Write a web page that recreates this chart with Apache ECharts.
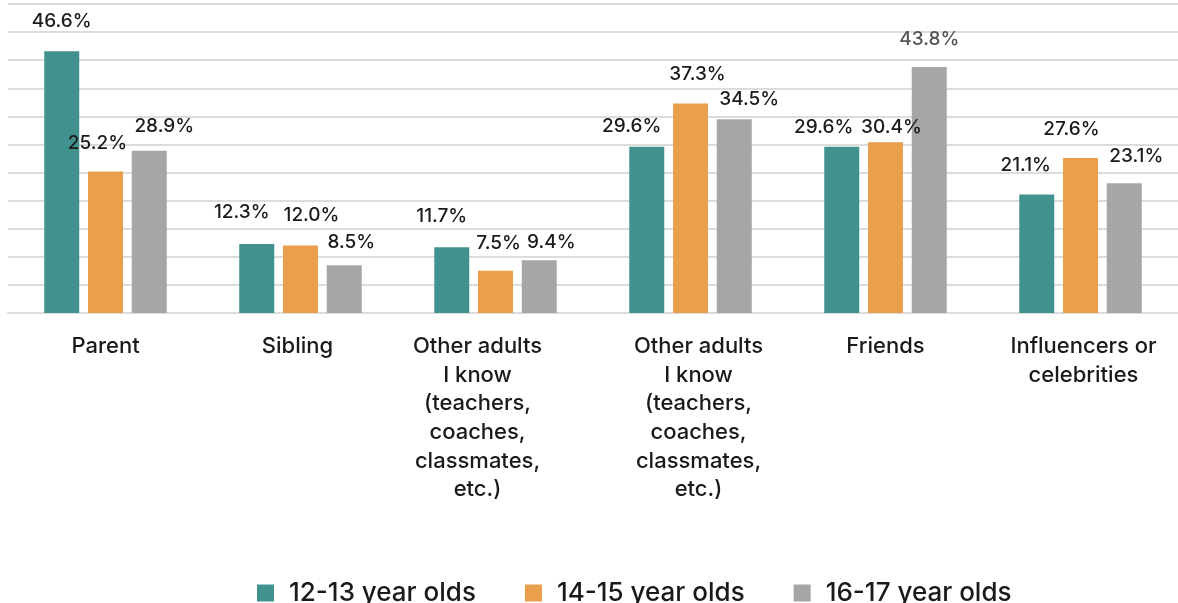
<!DOCTYPE html>
<html lang="en">
<head>
    <meta charset="UTF-8">
    <title>Who teens talk to</title>
    <style type="text/css">
        html, body {
            margin: 0;
            padding: 0;
            background: #fff;
        }

        #main {
            width: 1178px;
            height: 603px;
        }
    </style>
</head>
<body>
    <div id="main"></div>
    <script src="https://cdn.jsdelivr.net/npm/echarts@6/dist/echarts.min.js"></script>
    <script type="text/javascript">
        // categories along the x axis
        var categories = ['Parent', 'Sibling',
            'Other adults\nI know\n(teachers,\ncoaches,\nclassmates,\netc.)',
            'Other adults\nI know\n(teachers,\ncoaches,\nclassmates,\netc.)',
            'Friends', 'Influencers or\ncelebrities'];
        var seriesNames = ['12-13 year olds', '14-15 year olds', '16-17 year olds'];
        // percent values per age group
        var age1213 = [46.6, 12.3, 11.7, 29.6, 29.6, 21.1];
        var age1415 = [25.2, 12.0, 7.5, 37.3, 30.4, 27.6];
        var age1617 = [28.9, 8.5, 9.4, 34.5, 43.8, 23.1];
        var colors = ['#41928f', '#e99f4b', '#a6a6a6'];

        // label nudges [dx, dy] so the labels sit like in the original
        var labelShift = [
            [[0, -6], [-15, -8], [-10, -7], [-15, 3], [-18, 4], [-11, -6]],
            [[-8, -5], [11, -7], [3, -4], [7, -6], [6, 9], [-9, -5]],
            [[15, -1], [7, 1], [12, 6], [15, 4], [0, -4], [12, -3]]
        ];
        // horizontal nudge of the category names
        var catShift = [0, -3, -18, 8, 0, 3];

        var font = 'Inter, "Noto Sans", sans-serif';

        function makeSeries(idx, values) {
            return {
                name: seriesNames[idx],
                type: 'bar',
                barWidth: 35,
                barGap: '25%',
                itemStyle: { color: colors[idx] },
                label: {
                    show: true,
                    position: 'top',
                    distance: 14,
                    fontFamily: font,
                    fontSize: 19,
                    fontWeight: 500,
                    color: '#1a1a1a',
                    formatter: function (p) { return p.value.toFixed(1) + '%'; }
                },
                data: values.map(function (v, i) {
                    var lab = { offset: labelShift[idx][i] };
                    // the 43.8% label is grey in the original
                    if (idx === 2 && i === 4) lab.color = '#555';
                    return { value: v, label: lab };
                })
            };
        }

        // one rich style per category so each name can be nudged
        var catRich = {};
        catShift.forEach(function (s, i) {
            catRich['c' + i] = {
                fontFamily: font,
                fontSize: 22,
                fontWeight: 500,
                lineHeight: 28.7,
                color: '#1a1a1a',
                padding: s < 0 ? [0, -2 * s, 0, 0] : [0, 0, 0, 2 * s]
            };
        });

        var myChart = echarts.init(document.getElementById('main'));
        var option = {
            animation: false,
            grid: {
                left: 8,
                right: 0,
                top: 4,
                bottom: 290
            },
            legend: {
                bottom: -8,
                left: 252,
                itemWidth: 17,
                itemHeight: 17,
                itemGap: 49,
                icon: 'rect',
                textStyle: {
                    fontFamily: font,
                    fontSize: 26,
                    fontWeight: 500,
                    color: '#1a1a1a',
                    padding: [0, 0, 0, 10]
                },
                data: seriesNames
            },
            xAxis: {
                type: 'category',
                data: categories,
                axisTick: { show: false },
                axisLine: { lineStyle: { color: '#dcdcdc', width: 2 } },
                axisLabel: {
                    interval: 0,
                    margin: 19,
                    align: 'center',
                    formatter: function (val, i) {
                        return val.split('\n').map(function (line) {
                            return '{c' + i + '|' + line + '}';
                        }).join('\n');
                    },
                    rich: catRich
                }
            },
            yAxis: {
                type: 'value',
                min: 0,
                max: 55,
                interval: 5,
                axisLabel: { show: false },
                axisLine: { show: false },
                axisTick: { show: false },
                splitLine: { lineStyle: { color: '#dcdcdc', width: 2 } }
            },
            series: [
                makeSeries(0, age1213),
                makeSeries(1, age1415),
                makeSeries(2, age1617)
            ]
        };
        myChart.setOption(option);
    </script>
</body>
</html>
